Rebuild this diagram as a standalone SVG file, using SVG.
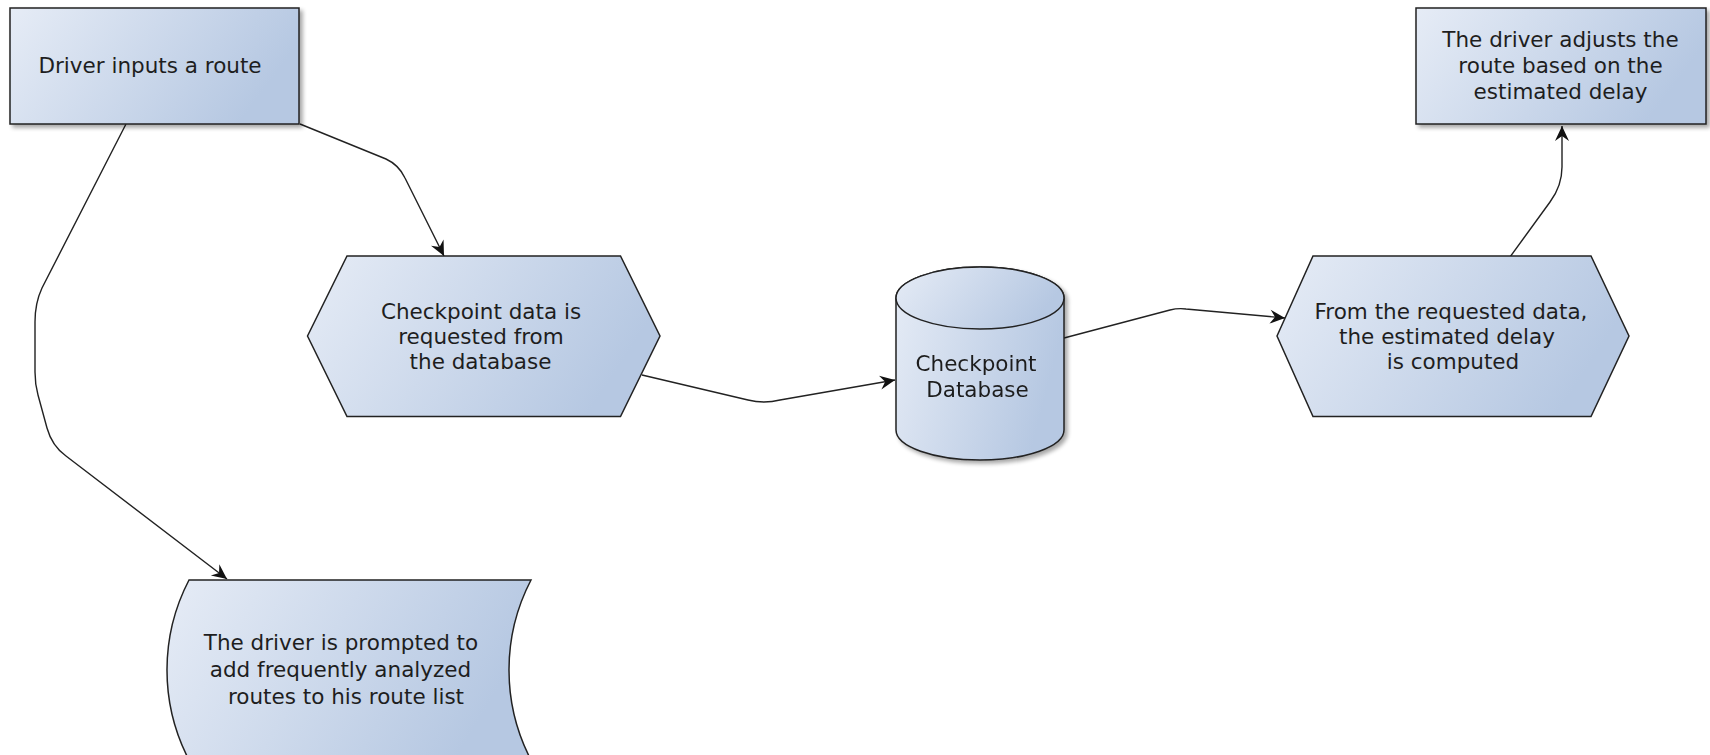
<svg xmlns="http://www.w3.org/2000/svg" width="1710" height="755" viewBox="0 0 1710 755">
<defs>
<linearGradient id="fillg" x1="0" y1="0" x2="1" y2="0.3">
<stop offset="0" stop-color="#e6ecf6"/>
<stop offset="1" stop-color="#b6c8e2"/>
</linearGradient>
<filter id="shadow" x="-10%" y="-10%" width="125%" height="130%">
<feGaussianBlur in="SourceAlpha" stdDeviation="2.2"/>
<feOffset dx="3" dy="3" result="b"/>
<feComponentTransfer><feFuncA type="linear" slope="0.35"/></feComponentTransfer>
<feMerge><feMergeNode/><feMergeNode in="SourceGraphic"/></feMerge>
</filter>
<marker id="arrow" viewBox="-16 -8 17 16" markerWidth="17" markerHeight="16" refX="0" refY="0" markerUnits="userSpaceOnUse" orient="auto">
<path d="M0,0 L-15,-7 L-10,0 L-15,7 Z" fill="#111"/>
</marker>
</defs>
<style>
.shape{fill:url(#fillg);stroke:#222;stroke-width:1.5}
.lbl{font-family:"DejaVu Sans","Verdana",sans-serif;font-size:21.5px;fill:#1e1e1e;text-anchor:middle}
.conn{fill:none;stroke:#222;stroke-width:1.4;marker-end:url(#arrow)}
</style>
<g id="connectors">
<path class="conn" d="M300,124 L386,159 Q399,165 405,178 L444,256"/>
<path class="conn" d="M126,124 L42,288 Q35,303 35,322 L35,372 Q35,384 38,395 L47,428 Q52,446 66,456 L227,579"/>
<path class="conn" d="M642,375 L748,400 Q764,404 780,400 L895,380"/>
<path class="conn" d="M1064,338 L1170,310 Q1178,308 1186,309 L1285,318"/>
<path class="conn" d="M1510,257 L1550,202 Q1562,186 1562,167 L1562,126"/>
</g>
<g id="node-driver-input">
<rect class="shape" x="10" y="8" width="289" height="116" filter="url(#shadow)"/>
<text class="lbl" x="150" y="73">Driver inputs a route</text>
</g>
<g id="node-request-data">
<polygon class="shape" points="307.5,336 347,256 620.5,256 660,336 620.5,416.5 347,416.5"/>
<text class="lbl"><tspan x="481" y="319">Checkpoint data is</tspan><tspan x="481" y="344">requested from</tspan><tspan x="480.5" y="369">the database</tspan></text>
</g>
<g id="node-database" filter="url(#shadow)">
<path class="shape" d="M896,298 L896,430 A84,30 0 0 0 1064,430 L1064,298 A84,31 0 0 0 896,298 Z"/>
<ellipse class="shape" cx="980" cy="298" rx="84" ry="31"/>
<text class="lbl"><tspan x="976" y="370.5">Checkpoint</tspan><tspan x="977.5" y="397">Database</tspan></text>
</g>
<g id="node-compute-delay">
<polygon class="shape" points="1277,336 1313,256 1591,256 1629,336 1591,416.5 1313,416.5"/>
<text class="lbl"><tspan x="1451" y="319">From the requested data,</tspan><tspan x="1447" y="344">the estimated delay</tspan><tspan x="1453" y="369">is computed</tspan></text>
</g>
<g id="node-adjust-route">
<rect class="shape" x="1416" y="8" width="290" height="116" filter="url(#shadow)"/>
<text class="lbl"><tspan x="1560.5" y="47">The driver adjusts the</tspan><tspan x="1560.5" y="73">route based on the</tspan><tspan x="1560.5" y="99">estimated delay</tspan></text>
</g>
<g id="node-prompt">
<path class="shape" d="M189,580 L531,580 A195,195 0 0 0 531,760 L189,760 A195,195 0 0 1 189,580 Z"/>
<text class="lbl"><tspan x="341" y="650">The driver is prompted to</tspan><tspan x="340.5" y="677">add frequently analyzed</tspan><tspan x="346" y="704">routes to his route list</tspan></text>
</g>
</svg>
